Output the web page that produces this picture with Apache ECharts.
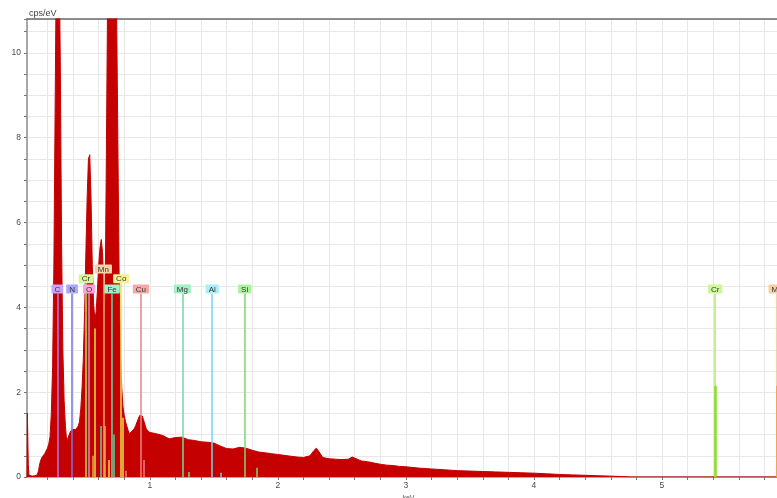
<!DOCTYPE html>
<html>
<head>
<meta charset="utf-8">
<title>EDS spectrum</title>
<script src="https://cdn.jsdelivr.net/npm/echarts@6/dist/echarts.min.js"></script>
<style>
  html, body { margin: 0; padding: 0; background: #fff; }
  #chart { width: 777px; height: 498px; }
</style>
</head>
<body>
<div id="chart"></div>
<script>
  // spectrum, energy in keV and counts in cps/eV
  var spectrumKeV = [
    0.04, 0.043, 0.05, 0.055, 0.06, 0.08, 0.10, 0.12, 0.13, 0.14,
    0.15, 0.16, 0.17, 0.18, 0.19, 0.20, 0.21, 0.22, 0.23, 0.24,
    0.25, 0.26, 0.27, 0.28, 0.29, 0.30, 0.31, 0.32, 0.33, 0.34,
    0.35, 0.36, 0.37, 0.38, 0.39, 0.40, 0.41, 0.42, 0.43, 0.44,
    0.45, 0.46, 0.47, 0.48, 0.49, 0.50, 0.51, 0.52, 0.53, 0.54,
    0.55, 0.56, 0.57, 0.58, 0.59, 0.60, 0.61, 0.62, 0.63, 0.64,
    0.65, 0.66, 0.67, 0.68, 0.69, 0.70, 0.71, 0.72, 0.73, 0.74,
    0.75, 0.76, 0.77, 0.78, 0.79, 0.80, 0.81, 0.82, 0.83, 0.84,
    0.85, 0.86, 0.87, 0.88, 0.89, 0.90, 0.91, 0.92, 0.93, 0.94,
    0.95, 0.96, 0.97, 0.98, 0.99, 1.00, 1.05, 1.10, 1.15, 1.20,
    1.25, 1.30, 1.35, 1.40, 1.45, 1.50, 1.55, 1.60, 1.65, 1.70,
    1.75, 1.80, 1.85, 1.90, 1.95, 2.00, 2.05, 2.10, 2.15, 2.20,
    2.25, 2.28, 2.30, 2.32, 2.35, 2.40, 2.45, 2.50, 2.55, 2.58,
    2.62, 2.65, 2.70, 2.75, 2.80, 2.85, 2.90, 2.95, 3.00, 3.10,
    3.20, 3.30, 3.40, 3.50, 3.60, 3.70, 3.80, 3.90, 4.00, 4.10,
    4.20, 4.30, 4.40, 4.50, 4.60, 4.70, 4.75, 6.00
  ];
  var spectrumCps = [
    0, 1.5, 0.3, 0.05, 0.02, 0.02, 0.03, 0.05, 0.15, 0.32,
    0.42, 0.48, 0.52, 0.56, 0.6, 0.68, 0.78, 0.95, 1.5, 2.6,
    5.0, 8.8, 12.5, 14, 12.5, 9.8, 5.5, 3.0, 1.8, 1.2,
    0.85, 0.92, 1.0, 1.08, 1.1, 1.12, 1.1, 1.12, 1.15, 1.2,
    1.3, 1.6, 2.1, 2.8, 3.9, 5.3, 6.6, 7.5, 7.6, 6.6,
    5.0, 4.1, 3.7, 3.9, 4.4, 5.0, 5.4, 5.6, 5.3, 4.4,
    4.0, 7.6, 11.5, 13.5, 14.5, 15, 14.5, 14, 13, 11,
    7.8, 4.6, 3.0, 2.1, 1.65, 1.45, 1.3, 1.2, 1.1, 1.02,
    1.05, 1.08, 1.12, 1.15, 1.22, 1.3, 1.38, 1.45, 1.48, 1.44,
    1.35, 1.25, 1.15, 1.1, 1.06, 1.05, 1.02, 0.98, 0.9, 0.93,
    0.94, 0.88, 0.86, 0.83, 0.82, 0.8, 0.73, 0.67, 0.66, 0.7,
    0.68, 0.63, 0.59, 0.57, 0.55, 0.53, 0.51, 0.49, 0.47, 0.46,
    0.5, 0.62, 0.68, 0.6, 0.46, 0.43, 0.42, 0.41, 0.42, 0.47,
    0.42, 0.38, 0.36, 0.33, 0.3, 0.28, 0.27, 0.25, 0.24, 0.21,
    0.19, 0.17, 0.15, 0.14, 0.13, 0.12, 0.11, 0.1, 0.09, 0.075,
    0.06, 0.05, 0.04, 0.03, 0.02, 0.01, 0, 0
  ];

  // labelled element lines
  var elemNames  = ['C', 'N', 'O', 'Cr', 'Mn', 'Co', 'Fe', 'Cu', 'Mg', 'Al', 'Si', 'Cr', 'Mn'];
  var elemKeV    = [0.277, 0.392, 0.525, 0.500, 0.637, 0.776, 0.705, 0.930, 1.254, 1.487, 1.740, 5.415, 5.899];
  var elemTop    = [4.33, 4.33, 4.33, 4.57, 4.8, 4.57, 4.33, 4.33, 4.33, 4.33, 4.33, 4.33, 4.33];
  var elemLine   = ['#b27ae6', '#7474e2', '#e486c8', '#bde24a', '#f0aa5c', '#e6e04a', '#5ed6a6', '#e88484', '#6edaa2', '#6cd8ee', '#7ed86a', '#b4e86c', '#f0c48e'];
  var elemBox    = ['#c9a4f7', '#a9a9f7', '#f6a6da', '#d9f69a', '#f8d2a4', '#f6f294', '#9af2cc', '#f6a8a8', '#a4f0c4', '#a8eef8', '#acf29c', '#cdf79a', '#f8cfa2'];

  // short unlabelled lines (secondary lines of the same elements)
  var minorKeV   = [0.573, 0.556, 0.615, 0.649, 0.678, 0.718, 0.791, 0.811, 0.950, 1.302, 1.557, 1.836, 5.415, 5.899];
  var minorTop   = [3.5, 0.5, 1.2, 1.2, 0.4, 1.0, 1.4, 0.15, 0.4, 0.12, 0.1, 0.22, 2.15, 2.15];
  var minorColor = ['#d6e640', '#f0a050', '#58d49c', '#f0a050', '#e8e040', '#58d49c', '#e8e040', '#e88484', '#e88484', '#6edaa2', '#6cd8ee', '#7ed86a', '#8edc2c', '#e89a3c'];
  var minorWidth = [1.5, 1.5, 1.5, 1.5, 1.5, 1.5, 1.5, 1.5, 1.5, 1.5, 1.5, 1.5, 2.5, 2.5];

  var chart = echarts.init(document.getElementById('chart'));

  var points = [];
  for (var i = 0; i < spectrumKeV.length; i++) {
    points.push([spectrumKeV[i], spectrumCps[i]]);
  }

  var lines = [];
  for (var j = 0; j < elemNames.length; j++) {
    lines.push([
      {
        name: elemNames[j],
        coord: [elemKeV[j], 0],
        lineStyle: { color: elemLine[j], width: 1.5, type: 'solid' },
        label: { show: true, backgroundColor: elemBox[j] }
      },
      { coord: [elemKeV[j], elemTop[j]] }
    ]);
  }
  for (var k = 0; k < minorKeV.length; k++) {
    lines.push([
      {
        coord: [minorKeV[k], 0],
        lineStyle: { color: minorColor[k], width: minorWidth[k], type: 'solid' },
        label: { show: false }
      },
      { coord: [minorKeV[k], minorTop[k]] }
    ]);
  }

  var fontFamily = 'Liberation Sans, Arial, sans-serif';

  chart.setOption({
    animation: false,
    backgroundColor: '#ffffff',
    grid: {
      left: 27,
      top: 19,
      bottom: 21,
      right: -13,
      containLabel: false,
      outerBoundsMode: 'none'
    },
    xAxis: [{
      type: 'value',
      min: 0.04,
      max: 6.0,
      splitNumber: 30,
      name: 'keV',
      nameLocation: 'middle',
      nameGap: 12,
      nameTextStyle: { fontSize: 7, color: '#555', fontFamily: fontFamily },
      axisLine: { show: true, onZero: false, lineStyle: { color: '#9a9a9a', width: 1.5 } },
      axisTick: { show: true, length: 3, lineStyle: { color: '#777' } },
      axisLabel: {
        fontSize: 8.5,
        color: '#4a4a4a',
        margin: 4,
        fontFamily: fontFamily,
        showMinLabel: false,
        formatter: function (v) {
          return (v >= 1 && Math.abs(v - Math.round(v)) < 1e-6) ? String(Math.round(v)) : '';
        }
      },
      splitLine: { show: true, lineStyle: { color: '#e8e8e8', width: 1 } }
    }, {
      type: 'value',
      position: 'top',
      min: 0.04,
      max: 6.0,
      axisLine: { show: true, onZero: false, lineStyle: { color: '#6a6a6a', width: 1.5 } },
      axisTick: { show: false },
      axisLabel: { show: false },
      splitLine: { show: false }
    }],
    yAxis: {
      type: 'value',
      min: 0,
      max: 10.8,
      interval: 0.5,
      name: 'cps/eV',
      nameLocation: 'end',
      nameGap: 1,
      nameTextStyle: { fontSize: 9, color: '#444', align: 'left', fontFamily: fontFamily, padding: [0, 0, 0, 2] },
      axisLine: { show: true, onZero: false, lineStyle: { color: '#a8a8a8', width: 2 } },
      axisTick: { show: true, length: 3, lineStyle: { color: '#777' } },
      axisLabel: {
        fontSize: 8.5,
        color: '#4a4a4a',
        margin: 6,
        fontFamily: fontFamily,
        formatter: function (v) {
          var r = Math.round(v);
          return (Math.abs(v - r) < 1e-6 && r % 2 === 0 && v <= 10.5) ? String(r) : '';
        }
      },
      splitLine: { show: true, lineStyle: { color: '#e8e8e8', width: 1 } }
    },
    series: [{
      type: 'line',
      data: points,
      showSymbol: false,
      clip: true,
      lineStyle: { color: '#c40000', width: 1 },
      areaStyle: { color: '#c40000', opacity: 1 },
      markLine: {
        silent: true,
        animation: false,
        symbol: ['none', 'none'],
        label: {
          position: 'end',
          distance: 0,
          formatter: '{b}',
          fontSize: 8,
          lineHeight: 8,
          color: '#333',
          fontFamily: fontFamily,
          padding: [1, 3, 0, 3],
          borderRadius: 1
        },
        emphasis: { disabled: true },
        data: lines
      }
    }]
  });
</script>
</body>
</html>
